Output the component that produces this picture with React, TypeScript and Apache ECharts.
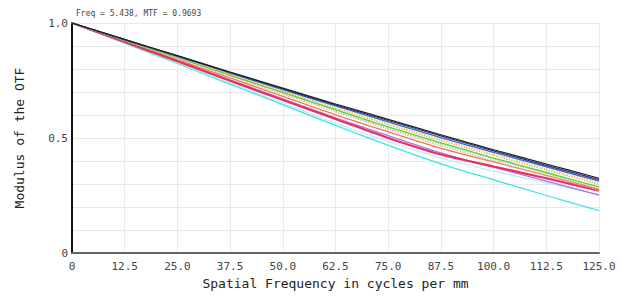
import React, { useEffect, useRef } from "react";
import * as echarts from "echarts";

const freqs = [0, 12.5, 25, 37.5, 50, 62.5, 75, 87.5, 100, 112.5, 125];
const xTicks = ["0", "12.5", "25.0", "37.5", "50.0", "62.5", "75.0", "87.5", "100.0", "112.5", "125.0"];
const yTicks = ["0", "0.5", "1.0"];

const diffLimit = [1, 0.929, 0.858, 0.787, 0.717, 0.648, 0.581, 0.514, 0.449, 0.387, 0.325];
const darkBlueT = [1, 0.928, 0.857, 0.785, 0.714, 0.644, 0.576, 0.509, 0.444, 0.381, 0.319];
const blueT = [1, 0.927, 0.855, 0.782, 0.71, 0.64, 0.57, 0.502, 0.437, 0.375, 0.312];
const yellowS = [1, 0.926, 0.853, 0.779, 0.706, 0.634, 0.563, 0.494, 0.429, 0.366, 0.304];
const orangeS = [1, 0.926, 0.852, 0.777, 0.703, 0.63, 0.558, 0.489, 0.424, 0.361, 0.298];
const greenT = [1, 0.924, 0.849, 0.773, 0.698, 0.623, 0.548, 0.479, 0.413, 0.35, 0.287];
const greenS = [1, 0.924, 0.848, 0.771, 0.695, 0.619, 0.543, 0.473, 0.408, 0.345, 0.281];
const pinkS = [1, 0.923, 0.845, 0.767, 0.69, 0.614, 0.538, 0.466, 0.4, 0.336, 0.273];
const orangeT = [1, 0.921, 0.841, 0.761, 0.681, 0.601, 0.527, 0.455, 0.396, 0.338, 0.277];
const redT = [1, 0.917, 0.834, 0.749, 0.665, 0.583, 0.5, 0.428, 0.376, 0.325, 0.271];
const purpleT = [1, 0.918, 0.836, 0.753, 0.67, 0.588, 0.51, 0.435, 0.373, 0.313, 0.252];
const lightCyanT = [1, 0.914, 0.827, 0.739, 0.652, 0.564, 0.485, 0.413, 0.356, 0.305, 0.255];
const cyanT = [1, 0.912, 0.824, 0.734, 0.645, 0.555, 0.468, 0.388, 0.318, 0.25, 0.184];

const seriesDefs = [
  { name: "Cyan T", data: cyanT, color: "#3fe3ea", width: 1.3, type: "solid" },
  { name: "Light cyan", data: lightCyanT, color: "#aef0f2", width: 1.2, type: "solid" },
  { name: "Purple", data: purpleT, color: "#b06cf2", width: 1.3, type: "solid" },
  { name: "Orange T", data: orangeT, color: "#f27a45", width: 1.3, type: "solid" },
  { name: "Red", data: redT, color: "#e8305e", width: 2.2, type: "solid" },
  { name: "Pink S", data: pinkS, color: "#f4a0c4", width: 1.3, type: "dotted" },
  { name: "Green S", data: greenS, color: "#9be27a", width: 1.3, type: "dotted" },
  { name: "Green T", data: greenT, color: "#58d048", width: 1.3, type: "solid" },
  { name: "Orange S", data: orangeS, color: "#f2a24a", width: 1.3, type: "dotted" },
  { name: "Yellow S", data: yellowS, color: "#ecd84a", width: 1.3, type: "dotted" },
  { name: "Blue T", data: blueT, color: "#3c62d6", width: 1.3, type: "solid" },
  { name: "Dark blue", data: darkBlueT, color: "#24337e", width: 1.2, type: "solid" },
  { name: "Diffraction", data: diffLimit, color: "#222222", width: 1.2, type: "solid" },
];

const mono = "DejaVu Sans Mono";

export default function App() {
  const ref = useRef<HTMLDivElement>(null);
  useEffect(() => {
    document.body.style.margin = "0";
    const chart = echarts.init(ref.current!, undefined, { renderer: "svg" });
    chart.setOption({
      animation: false,
      backgroundColor: "#ffffff",
      title: {
        text: "Freq = 5.438, MTF = 0.9693",
        left: 71,
        top: 4,
        textStyle: { fontFamily: mono, fontSize: 8, fontWeight: "normal", color: "#444" },
      },
      grid: { left: 72, right: 31, top: 23, bottom: 43 },
      xAxis: {
        type: "value",
        min: 0,
        max: 125,
        interval: 12.5,
        name: "Spatial Frequency in cycles per mm",
        nameLocation: "middle",
        nameGap: 23,
        nameTextStyle: { fontFamily: mono, fontSize: 13, color: "#222" },
        axisLine: { show: true, onZero: false, lineStyle: { color: "#666", width: 2 } },
        axisTick: { show: false },
        axisLabel: {
          margin: 8,
          fontFamily: mono,
          fontSize: 11,
          color: "#444",
          formatter: (v: number) => xTicks[Math.round(v / 12.5)] ?? "",
        },
        splitLine: { show: true, lineStyle: { color: "#e9e9e9", width: 1 } },
      },
      yAxis: {
        type: "value",
        min: 0,
        max: 1,
        interval: 0.1,
        name: "Modulus of the OTF",
        nameLocation: "middle",
        nameGap: 46,
        nameTextStyle: { fontFamily: mono, fontSize: 13, color: "#222" },
        axisLine: { show: true, lineStyle: { color: "#111", width: 2 } },
        axisTick: { show: false },
        axisLabel: {
          margin: 4,
          fontFamily: mono,
          fontSize: 11,
          color: "#444",
          formatter: (v: number) => {
            const i = Math.round(v * 10);
            if (i === 0) return yTicks[0];
            if (i === 5) return yTicks[1];
            if (i === 10) return yTicks[2];
            return "";
          },
        },
        splitLine: { show: true, lineStyle: { color: "#e9e9e9", width: 1 } },
      },
      series: seriesDefs.map((s) => ({
        name: s.name,
        type: "line",
        smooth: 0.3,
        showSymbol: false,
        data: freqs.map((f, i) => [f, s.data[i]]),
        lineStyle: { color: s.color, width: s.width, type: s.type },
        itemStyle: { color: s.color },
      })),
    });
    return () => chart.dispose();
  }, []);
  return <div ref={ref} style={{ width: 630, height: 296 }} />;
}
